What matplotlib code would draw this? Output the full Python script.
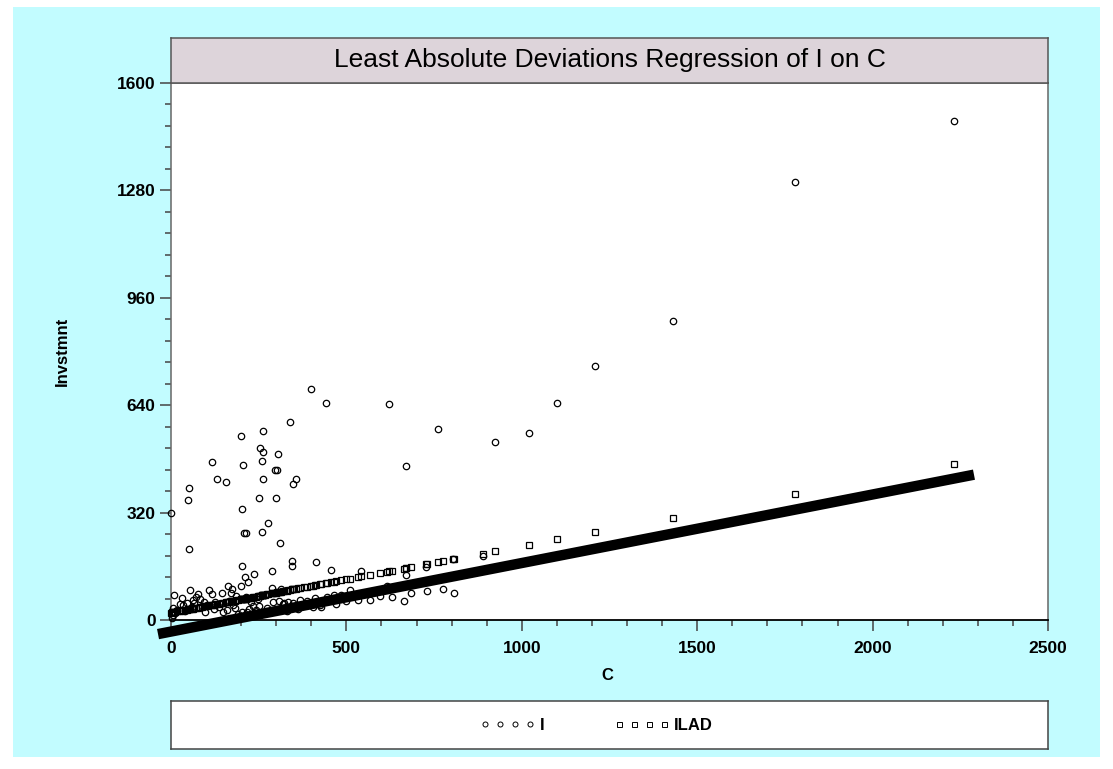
import matplotlib
matplotlib.use("Agg")
import matplotlib.pyplot as plt
from matplotlib.lines import Line2D
from matplotlib.patches import Rectangle
from matplotlib.ticker import MultipleLocator

plt.rcParams['font.family'] = ['Liberation Sans', 'DejaVu Sans']

# C (consumption) and I (investment) observations
C = [0, 3, 5, 6, 8, 10, 18, 25, 31, 34, 40, 46, 49, 51, 52, 54, 60, 63, 66, 70,
     77, 83, 88, 94, 97, 103, 109, 117, 117, 122, 126, 131, 137, 146, 149, 157,
     160, 163, 166, 170, 174, 178, 183, 186, 192, 200, 200, 203, 203, 203, 206,
     209, 211, 214, 214, 217, 220, 223, 228, 234, 237, 243, 248, 251, 251, 254,
     258, 260, 260, 263, 263, 263, 268, 274, 277, 289, 289, 291, 297, 300, 303,
     306, 309, 311, 314, 320, 323, 330, 334, 340, 346, 346, 349, 349, 357, 362,
     369, 380, 389, 400, 406, 411, 414, 426, 429, 443, 446, 457, 466, 469, 486,
     500, 509, 534, 543, 566, 597, 617, 621, 631, 663, 669, 671, 683, 726, 729,
     760, 774, 803, 806, 889, 923, 1020, 1099, 1209, 1431, 1780, 2231]

I = [319, 6, 14, 36, 74, 22, 30, 48, 65, 45, 28, 51, 357, 393, 211, 89, 38, 60,
     51, 68, 77, 63, 42, 54, 24, 45, 88, 77, 470, 33, 54, 420, 39, 80, 24, 411,
     30, 101, 57, 80, 92, 45, 36, 71, 18, 101, 548, 24, 161, 330, 461, 259, 128,
     68, 259, 24, 113, 33, 54, 42, 137, 30, 63, 42, 363, 512, 20, 262, 473, 420,
     500, 563, 75, 36, 289, 95, 146, 54, 447, 363, 447, 494, 57, 229, 92, 48, 51,
     27, 54, 589, 161, 176, 51, 405, 420, 33, 60, 45, 57, 688, 39, 65, 173, 45,
     39, 646, 68, 149, 74, 48, 74, 57, 89, 60, 146, 60, 71, 101, 643, 68, 57,
     458, 134, 80, 158, 86, 569, 92, 182, 80, 190, 530, 556, 646, 756, 892, 1304,
     1488]

# fitted values from the LAD regression
ILAD = [22, 23, 23, 23, 24, 24, 26, 27, 28, 29, 30, 31, 32, 32, 32, 33, 34, 34,
        35, 36, 37, 38, 39, 41, 41, 42, 44, 45, 45, 46, 47, 48, 49, 51, 52, 53,
        54, 54, 55, 56, 56, 57, 58, 59, 60, 62, 62, 62, 62, 62, 63, 63, 64, 64,
        64, 65, 66, 66, 67, 68, 69, 70, 71, 72, 72, 72, 73, 73, 73, 74, 74, 74,
        75, 76, 77, 79, 79, 80, 81, 81, 82, 83, 83, 84, 84, 85, 86, 87, 88, 89,
        91, 91, 91, 91, 93, 94, 95, 97, 99, 101, 102, 103, 104, 106, 107, 110,
        110, 112, 114, 115, 118, 121, 123, 128, 130, 134, 140, 144, 145, 147,
        153, 154, 155, 157, 166, 166, 172, 175, 181, 182, 198, 205, 224, 240,
        261, 305, 374, 464]

# regression line end points
line_C = [-37, 2289]
line_I = [-42, 433]

W, H = 1113, 769
fig = plt.figure(figsize=(W / 100, H / 100), dpi=100, facecolor='white')

bg = '#C2FCFF'
fig.patches.append(Rectangle((13 / W, 12 / H), (1100 - 13) / W, (757 - 7) / H,
                             transform=fig.transFigure, facecolor=bg,
                             edgecolor='none', zorder=-10))

ax_left, ax_right = 171 / W, 1048 / W
ax_bot, ax_top = (H - 620) / H, (H - 83) / H
ax = fig.add_axes([ax_left, ax_bot, ax_right - ax_left, ax_top - ax_bot])
ax.set_facecolor('white')

ax.plot(C, I, linestyle='none', marker='o', ms=4.6, mfc='none', mec='black',
        mew=0.9, clip_on=False, zorder=4)
ax.plot(C, ILAD, linestyle='none', marker='s', ms=4.6, mfc='none', mec='black',
        mew=0.9, clip_on=False, zorder=4)
ax.plot(line_C, line_I, color='black', lw=7.5, solid_capstyle='butt',
        clip_on=False, zorder=5)

ax.set_xlim(0, 2500)
ax.set_ylim(0, 1600)
ax.xaxis.set_major_locator(MultipleLocator(500))
ax.xaxis.set_minor_locator(MultipleLocator(100))
ax.yaxis.set_major_locator(MultipleLocator(320))
ax.yaxis.set_minor_locator(MultipleLocator(64))

for side in ['left', 'right', 'top']:
    ax.spines[side].set_color('#666666')
    ax.spines[side].set_linewidth(1.1)
ax.spines['bottom'].set_color('black')
ax.spines['bottom'].set_linewidth(1.3)

ax.tick_params(axis='both', which='major', direction='out', length=8,
               width=1.1, color='#444444', labelsize=12.5)
ax.tick_params(axis='both', which='minor', direction='out', length=4.5,
               width=1.1, color='#444444')
ax.tick_params(axis='x', which='major', pad=7)
ax.tick_params(axis='y', which='major', pad=3)
for lab in ax.get_xticklabels() + ax.get_yticklabels():
    lab.set_fontweight('bold')

fig.text(607 / W, 1 - 676 / H, 'C', ha='center', va='center',
         fontsize=12, fontweight='bold')
fig.text(62 / W, 1 - 351 / H, 'Invstmnt', ha='center', va='center',
         rotation=90, fontsize=12, fontweight='bold')

# title band above the plot
tax = fig.add_axes([ax_left, ax_top, ax_right - ax_left, (83 - 38) / H])
tax.set_facecolor('#DDD4DA')
tax.set_xticks([])
tax.set_yticks([])
for s in tax.spines.values():
    s.set_color('#555555')
    s.set_linewidth(1.1)
tax.text(0.5, 0.5, 'Least Absolute Deviations Regression of I on C',
         ha='center', va='center', fontsize=19, transform=tax.transAxes)

# legend box below
lax = fig.add_axes([ax_left, (H - 749) / H, ax_right - ax_left, (749 - 701) / H])
lax.set_facecolor('white')
lax.set_xticks([])
lax.set_yticks([])
for s in lax.spines.values():
    s.set_color('#444444')
    s.set_linewidth(1.1)
handles = [
    Line2D([], [], linestyle='none', marker='o', ms=3.6, mfc='none',
           mec='black', mew=0.7),
    Line2D([], [], linestyle='none', marker='s', ms=3.6, mfc='none',
           mec='black', mew=0.7),
]
leg = lax.legend(handles, ['I', 'ILAD'], loc='center',
                 bbox_to_anchor=(0.485, 0.5), ncol=2, frameon=False,
                 numpoints=4, handlelength=3.3, handletextpad=0.3,
                 columnspacing=4.2, prop={'size': 12, 'weight': 'bold'})

fig.savefig('out.png', dpi=100, facecolor='white')
